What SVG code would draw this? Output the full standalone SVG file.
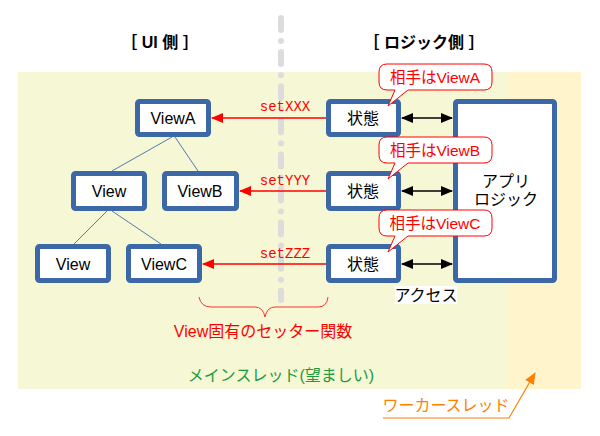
<svg xmlns="http://www.w3.org/2000/svg" width="600" height="436" viewBox="0 0 600 436">
<style>
.jp{font-family:"Liberation Sans","Noto Sans CJK JP",sans-serif}
.box{fill:#fff;stroke:#3C68A8;stroke-width:5}
.nt{font-family:"Liberation Sans","Noto Sans CJK JP",sans-serif;font-size:16px;fill:#000;text-anchor:middle}
.tree{stroke:#4F7CB3;stroke-width:1;fill:none}
.red{stroke:#FF0000;stroke-width:1.3;fill:none}
.blk{stroke:#000;stroke-width:1.3;fill:none}
.lbl{font-family:"Liberation Mono","DejaVu Sans Mono",monospace;font-size:14px;fill:#FF0000;text-anchor:middle}
.call{fill:#fff;stroke:#FF0000;stroke-width:1}
.ct{font-family:"Liberation Sans","Noto Sans CJK JP",sans-serif;font-size:15.5px;fill:#FF0000;text-anchor:middle}
.title{font-family:"Liberation Sans","Noto Sans CJK JP",sans-serif;font-size:16px;font-weight:bold;fill:#000;text-anchor:middle}
</style>
<defs>
<marker id="ra" markerUnits="userSpaceOnUse" markerWidth="12" markerHeight="12" viewBox="0 0 12 12" refX="11" refY="6" orient="auto"><path d="M0,1 L12,6 L0,11 Z" fill="#FF0000"/></marker>
<marker id="ba" markerUnits="userSpaceOnUse" markerWidth="12" markerHeight="12" viewBox="0 0 12 12" refX="11" refY="6" orient="auto-start-reverse"><path d="M0,1 L12,6 L0,11 Z" fill="#000"/></marker>
<marker id="oa" markerUnits="userSpaceOnUse" markerWidth="12" markerHeight="12" viewBox="0 0 12 12" refX="11" refY="6" orient="auto"><path d="M0,1 L12,6 L0,11 Z" fill="#FF7F00"/></marker>
<path id="callout" d="M387,64 H484 Q492,64 492,72 V82 Q492,90 484,90 H408 L388,106 L395,90 H387 Q379,90 379,82 V72 Q379,64 387,64 Z"/>
</defs>
<rect width="600" height="436" fill="#fff"/>
<rect x="18" y="72" width="490" height="317" fill="#F6F7D5"/>
<rect x="508" y="72" width="73" height="317" fill="#FFF4CC"/>
<line x1="281" y1="18" x2="281" y2="300" stroke="#DCDCDC" stroke-width="6" stroke-linecap="round" stroke-dasharray="12 11 0.1 11"/>
<text class="title" x="160" y="48">［ UI 側 ］</text>
<text class="title" x="424" y="48">［ ロジック側 ］</text>
<g id="tree-lines">
<line class="tree" x1="172" y1="137" x2="112" y2="171"/>
<line class="tree" x1="175" y1="137" x2="198" y2="171"/>
<line class="tree" x1="107" y1="211" x2="74" y2="244"/>
<line class="tree" x1="112" y1="211" x2="161" y2="244"/>
</g>
<g id="viewA"><rect class="box" x="137.5" y="101.5" width="71" height="33" rx="2"/><text class="nt" x="173" y="124">ViewA</text></g>
<g id="view1"><rect class="box" x="73.5" y="173.5" width="71" height="35" rx="2"/><text class="nt" x="109" y="197">View</text></g>
<g id="viewB"><rect class="box" x="164.5" y="173.5" width="72" height="35" rx="2"/><text class="nt" x="200" y="197">ViewB</text></g>
<g id="view2"><rect class="box" x="37.5" y="246.5" width="71" height="34" rx="2"/><text class="nt" x="73" y="270">View</text></g>
<g id="viewC"><rect class="box" x="128.5" y="246.5" width="71" height="34" rx="2"/><text class="nt" x="164" y="270">ViewC</text></g>
<g id="state1"><rect class="box" x="328.5" y="101.5" width="70" height="33" rx="2"/><text class="nt" x="363" y="124" font-size="17">状態</text></g>
<g id="state2"><rect class="box" x="328.5" y="173.5" width="70" height="35" rx="2"/><text class="nt" x="363" y="197" font-size="17">状態</text></g>
<g id="state3"><rect class="box" x="328.5" y="246.5" width="70" height="34" rx="2"/><text class="nt" x="363" y="270" font-size="17">状態</text></g>
<g id="applogic"><rect class="box" x="455.5" y="101.5" width="99" height="179" rx="2"/><text class="nt" x="506" y="187" font-size="17">アプリ</text><text class="nt" x="506" y="205" font-size="17">ロジック</text></g>
<g id="connectors">
<line class="red" x1="326" y1="118" x2="212" y2="118" marker-end="url(#ra)"/>
<line class="red" x1="326" y1="191" x2="240" y2="191" marker-end="url(#ra)"/>
<line class="red" x1="326" y1="264" x2="203" y2="264" marker-end="url(#ra)"/>
<text class="lbl" x="285" y="111">setXXX</text>
<text class="lbl" x="285" y="185">setYYY</text>
<text class="lbl" x="285" y="258">setZZZ</text>
<line class="blk" x1="402" y1="118" x2="452" y2="118" marker-start="url(#ba)" marker-end="url(#ba)"/>
<line class="blk" x1="402" y1="191" x2="452" y2="191" marker-start="url(#ba)" marker-end="url(#ba)"/>
<line class="blk" x1="402" y1="264" x2="452" y2="264" marker-start="url(#ba)" marker-end="url(#ba)"/>
</g>
<g id="calloutA"><use href="#callout" class="call"/><text class="ct" x="435" y="83">相手はViewA</text></g>
<g id="calloutB" transform="translate(0,73)"><use href="#callout" class="call"/><text class="ct" x="435" y="83">相手はViewB</text></g>
<g id="calloutC" transform="translate(0,146)"><use href="#callout" class="call"/><text class="ct" x="435" y="83">相手はViewC</text></g>
<g id="access"><rect x="395" y="286" width="62" height="18" fill="#fff"/><text class="nt" x="426" y="301" font-size="15.5">アクセス</text></g>
<g id="brace"><path d="M199,297 Q201,307 211,307 H255 Q263,307 265,317 Q267,307 275,307 H318 Q327,307 328,297" fill="none" stroke="#FF3333" stroke-width="1"/>
<text class="jp" x="263" y="337" font-size="16" fill="#FF0000" text-anchor="middle">View固有のセッター関数</text></g>
<text class="jp" x="281" y="381" font-size="16" fill="#1E9A3C" text-anchor="middle">メインスレッド(望ましい)</text>
<g id="worker"><text class="jp" x="446" y="411" font-size="16" fill="#FF7F00" text-anchor="middle">ワーカースレッド</text>
<polyline points="383,418 509,418 535,373" fill="none" stroke="#FF7F00" stroke-width="1.2" marker-end="url(#oa)"/></g>
</svg>
